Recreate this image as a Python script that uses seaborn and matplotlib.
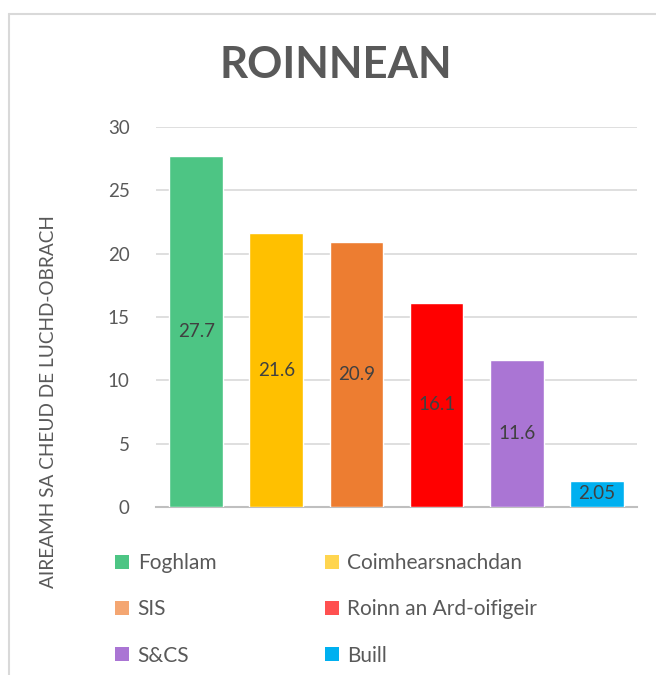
import pandas as pd
import matplotlib.pyplot as plt
import seaborn as sns
from matplotlib.patches import Patch
from matplotlib.lines import Line2D

# Chart data
categories = ['Foghlam', 'Coimhearsnachdan', 'SIS', 'Roinn an Ard-oifigeir', 'S&CS', 'Buill']
values = [27.7, 21.6, 20.9, 16.1, 11.6, 2.05]
value_labels = ['27.7', '21.6', '20.9', '16.1', '11.6', '2.05']
bar_colors = ['#4DC584', '#FFC000', '#ED7D31', '#FF0000', '#AA75D4', '#00B0F0']
legend_colors = ['#4DC584', '#FFD54F', '#F4A672', '#FF5050', '#AA75D4', '#00B0F0']
y_ticks = [0, 5, 10, 15, 20, 25, 30]

TEXT = '#595959'

sns.set_style('white')
plt.rcParams['font.family'] = ['Lato', 'DejaVu Sans']

df = pd.DataFrame({'category': categories, 'value': values})

fig = plt.figure(figsize=(6.56, 6.75), dpi=100)
ax = fig.add_axes([0.238, 0.249, 0.733, 0.563])

sns.barplot(data=df, x='category', y='value', hue='category',
            palette=dict(zip(categories, bar_colors)), width=0.67,
            saturation=1, legend=False, ax=ax, zorder=3)

# value labels in the middle of each bar
for i, (v, lab) in enumerate(zip(values, value_labels)):
    ax.text(i, v / 2, lab, ha='center', va='center', fontsize=13.5, color='#404040', zorder=4)

ax.set_ylim(0, 30)
ax.set_xlim(-0.5, len(categories) - 0.5)
ax.set_yticks(y_ticks)
ax.set_yticklabels([str(t) for t in y_ticks], color=TEXT, fontsize=13.5)
ax.set_xticks([])
ax.set_xlabel('')
ax.set_ylabel('AIREAMH SA CHEUD DE LUCHD-OBRACH', color=TEXT, fontsize=13.7)
ax.yaxis.set_label_coords(-0.206, 0.276)
ax.tick_params(axis='y', length=0, pad=19)
ax.grid(axis='y', color='#D9D9D9', linewidth=1.2, zorder=0)
for s in ['top', 'right', 'left']:
    ax.spines[s].set_visible(False)
ax.spines['bottom'].set_color('#BFBFBF')
ax.spines['bottom'].set_linewidth(1.5)

fig.text(0.512, 0.903, 'ROINNEAN', ha='center', va='center', fontsize=31.5,
         fontweight='bold', color=TEXT)

# legend in two columns, filled row by row
order = [0, 2, 4, 1, 3, 5]
handles = [Patch(facecolor=legend_colors[k], edgecolor='none') for k in order]
labels = [categories[k] for k in order]
fig.legend(handles, labels, loc='upper left', bbox_to_anchor=(0.163, 0.193),
           ncol=2, frameon=False, fontsize=15, labelcolor=TEXT,
           handlelength=0.68, handleheight=0.68, handletextpad=0.4,
           columnspacing=5.2, labelspacing=1.26, borderaxespad=0)

# chart area border
fig.add_artist(Line2D([9 / 656, 9 / 656], [0, 1 - 14 / 675], transform=fig.transFigure,
                      color='#D9D9D9', linewidth=1.5))
fig.add_artist(Line2D([9 / 656, 1], [1 - 14 / 675, 1 - 14 / 675], transform=fig.transFigure,
                      color='#D9D9D9', linewidth=1.5))

fig.savefig('out.png', dpi=100)
